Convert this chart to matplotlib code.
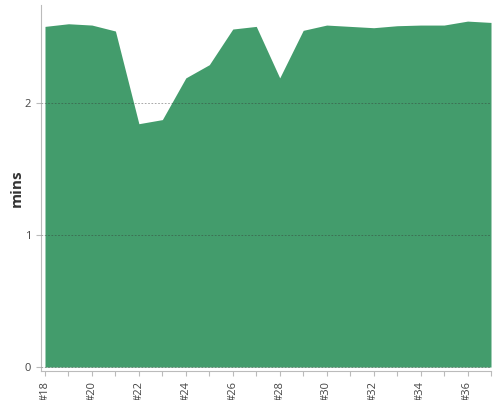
import matplotlib.pyplot as plt
import numpy as np

plt.rcParams["font.family"] = ["Open Sans", "DejaVu Sans"]

builds = np.arange(18, 38)
mins = [2.58, 2.60, 2.59, 2.545, 1.843, 1.874, 2.19, 2.29, 2.56, 2.58,
        2.19, 2.55, 2.59, 2.58, 2.57, 2.585, 2.59, 2.59, 2.62, 2.61]
labels = ["#%d" % b if b % 2 == 0 else "" for b in builds]

fig = plt.figure(figsize=(5, 4), dpi=100)
ax = fig.add_axes([41 / 500, 1 - 371 / 400, 450 / 500, 366 / 400])

ax.fill_between(builds, 0, mins, color="#439c6c", linewidth=0, zorder=1)

ax.set_xlim(17.83, 37)
ax.set_ylim(-0.03, 2.742)
ax.set_yticks([0, 1, 2])
ax.set_xticks(builds)
ax.set_xticklabels(labels, rotation=90)

ax.grid(axis="y", linestyle=(0, (2, 2)), color="#333333", alpha=0.5,
        linewidth=0.6, zorder=2)
ax.set_axisbelow(False)

for s in ["top", "right"]:
    ax.spines[s].set_visible(False)
for s in ["left", "bottom"]:
    ax.spines[s].set_color("#bbbbbb")

ax.tick_params(colors="#bbbbbb", labelcolor="#444444", labelsize=8, length=3.5)
ax.set_ylabel("mins", fontsize=11, fontweight="bold", color="#333333", labelpad=1)

plt.savefig("out.png", dpi=100)
plt.close()
